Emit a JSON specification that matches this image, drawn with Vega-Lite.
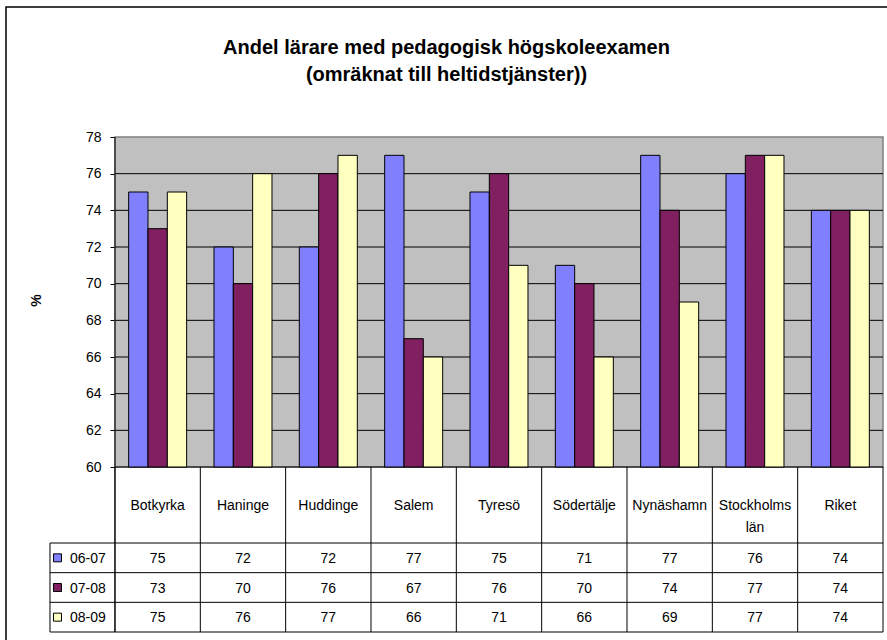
{
  "$schema": "https://vega.github.io/schema/vega-lite/v6.json",
  "width": 881,
  "height": 633,
  "autosize": {"type": "none"},
  "padding": {"left": 6, "top": 7, "right": 0, "bottom": 0},
  "background": "white",
  "title": {
    "text": ["Andel lärare med pedagogisk högskoleexamen", "(omräknat till heltidstjänster))"],
    "font": "Liberation Sans",
    "fontSize": 20,
    "fontWeight": "bold",
    "color": "black",
    "anchor": "middle",
    "frame": "group",
    "offset": -78,
    "baseline": "top",
    "lineHeight": 27
  },
  "data": {
    "values": [
      {"category": "Botkyrka", "series": "06-07", "value": 75},
      {"category": "Haninge", "series": "06-07", "value": 72},
      {"category": "Huddinge", "series": "06-07", "value": 72},
      {"category": "Salem", "series": "06-07", "value": 77},
      {"category": "Tyresö", "series": "06-07", "value": 75},
      {"category": "Södertälje", "series": "06-07", "value": 71},
      {"category": "Nynäshamn", "series": "06-07", "value": 77},
      {"category": "Stockholms län", "series": "06-07", "value": 76},
      {"category": "Riket", "series": "06-07", "value": 74},
      {"category": "Botkyrka", "series": "07-08", "value": 73},
      {"category": "Haninge", "series": "07-08", "value": 70},
      {"category": "Huddinge", "series": "07-08", "value": 76},
      {"category": "Salem", "series": "07-08", "value": 67},
      {"category": "Tyresö", "series": "07-08", "value": 76},
      {"category": "Södertälje", "series": "07-08", "value": 70},
      {"category": "Nynäshamn", "series": "07-08", "value": 74},
      {"category": "Stockholms län", "series": "07-08", "value": 77},
      {"category": "Riket", "series": "07-08", "value": 74},
      {"category": "Botkyrka", "series": "08-09", "value": 75},
      {"category": "Haninge", "series": "08-09", "value": 76},
      {"category": "Huddinge", "series": "08-09", "value": 77},
      {"category": "Salem", "series": "08-09", "value": 66},
      {"category": "Tyresö", "series": "08-09", "value": 71},
      {"category": "Södertälje", "series": "08-09", "value": 66},
      {"category": "Nynäshamn", "series": "08-09", "value": 69},
      {"category": "Stockholms län", "series": "08-09", "value": 77},
      {"category": "Riket", "series": "08-09", "value": 74}
    ]
  },
  "layer": [
    {
      "layer": [
        {
          "transform": [{"filter": {"and": [{"field": "category", "equal": "Botkyrka"}, {"field": "series", "equal": "06-07"}]}}],
          "mark": {"type": "rect", "fill": "#C0C0C0", "stroke": "#808080", "strokeWidth": 1.5},
          "encoding": {
            "x": {"datum": "Botkyrka", "bandPosition": 0},
            "x2": {"datum": "Riket", "bandPosition": 1},
            "y": {"datum": 78},
            "y2": {"datum": 60}
          }
        },
        {
          "data": {"values": [{"g": 60}, {"g": 62}, {"g": 64}, {"g": 66}, {"g": 68}, {"g": 70}, {"g": 72}, {"g": 74}, {"g": 76}]},
          "mark": {"type": "rule", "color": "black", "strokeWidth": 1},
          "encoding": {
            "y": {"field": "g", "type": "quantitative"},
            "x": {"datum": "Botkyrka", "bandPosition": 0},
            "x2": {"datum": "Riket", "bandPosition": 1}
          }
        },
        {
          "mark": {"type": "bar", "stroke": "black", "strokeWidth": 1},
          "encoding": {
            "x": {
              "field": "category",
              "type": "nominal",
              "sort": null,
              "axis": null,
              "scale": {
                "type": "band",
                "domain": ["Botkyrka", "Haninge", "Huddinge", "Salem", "Tyresö", "Södertälje", "Nynäshamn", "Stockholms län", "Riket"],
                "paddingInner": 0,
                "paddingOuter": 0.662,
                "align": 0.9646
              }
            },
            "xOffset": {
              "field": "series",
              "type": "nominal",
              "scale": {"domain": ["06-07", "07-08", "08-09"], "paddingInner": 0, "paddingOuter": 0.707}
            },
            "y": {
              "field": "value",
              "type": "quantitative",
              "scale": {"domain": [50.564, 85.091], "nice": false, "zero": false},
              "axis": {
                "values": [60, 62, 64, 66, 68, 70, 72, 74, 76, 78],
                "domain": false,
                "grid": false,
                "offset": -109,
                "tickSize": 5,
                "tickColor": "black",
                "tickWidth": 1,
                "labelPadding": 9,
                "labelFont": "Liberation Sans",
                "labelFontSize": 14,
                "labelColor": "black",
                "title": "%",
                "titleFont": "Liberation Sans",
                "titleFontSize": 14,
                "titleFontWeight": "bold",
                "titleColor": "black",
                "titlePadding": 42,
                "titleY": 293
              }
            },
            "y2": {"datum": 60},
            "color": {
              "field": "series",
              "type": "nominal",
              "scale": {"domain": ["06-07", "07-08", "08-09"], "range": ["#8080FF", "#802060", "#FFFFC0"]},
              "legend": null
            }
          }
        },
        {
          "transform": [{"filter": {"and": [{"field": "category", "equal": "Botkyrka"}, {"field": "series", "equal": "06-07"}]}}],
          "mark": {"type": "rule", "color": "black", "strokeWidth": 1},
          "encoding": {
            "x": {"datum": "Botkyrka", "bandPosition": 0},
            "y": {"datum": 51.0},
            "y2": {"datum": 78}
          }
        },
        {
          "transform": [{"filter": {"field": "series", "equal": "06-07"}}],
          "mark": {"type": "rule", "color": "black", "strokeWidth": 1},
          "encoding": {
            "x": {"field": "category", "type": "nominal", "bandPosition": 0},
            "y": {"datum": 60},
            "y2": {"datum": 51.0}
          }
        },
        {
          "transform": [{"filter": {"and": [{"field": "category", "equal": "Botkyrka"}, {"field": "series", "equal": "06-07"}]}}],
          "mark": {"type": "rule", "color": "black", "strokeWidth": 1},
          "encoding": {
            "x": {"datum": "Riket", "bandPosition": 1},
            "y": {"datum": 60},
            "y2": {"datum": 51.0}
          }
        },
        {
          "transform": [{"filter": {"field": "series", "equal": "06-07"}}],
          "mark": {"type": "text", "baseline": "top", "lineBreak": " ", "lineHeight": 22, "fontSize": 14, "font": "Liberation Sans", "color": "black"},
          "encoding": {
            "x": {"field": "category", "type": "nominal"},
            "y": {"datum": 58.28},
            "text": {"field": "category"}
          }
        }
      ]
    },
    {
      "layer": [
        {
          "transform": [{"filter": {"field": "category", "equal": "Botkyrka"}}],
          "mark": {"type": "rule", "color": "black", "strokeWidth": 1, "xOffset": -65},
          "encoding": {
            "x": {"datum": "Botkyrka", "bandPosition": 0},
            "x2": {"datum": "Riket", "bandPosition": 1},
            "y": {
              "field": "series",
              "type": "nominal",
              "bandPosition": 0,
              "scale": {"type": "band", "domain": ["06-07", "07-08", "08-09"], "range": [536, 625], "paddingInner": 0, "paddingOuter": 0},
              "axis": null
            }
          }
        },
        {
          "transform": [{"filter": {"and": [{"field": "category", "equal": "Botkyrka"}, {"field": "series", "equal": "06-07"}]}}],
          "mark": {"type": "rule", "color": "black", "strokeWidth": 1, "xOffset": -65},
          "encoding": {
            "x": {"datum": "Botkyrka", "bandPosition": 0},
            "x2": {"datum": "Riket", "bandPosition": 1},
            "y": {"datum": "08-09", "bandPosition": 1, "axis": null}
          }
        },
        {
          "transform": [{"filter": {"and": [{"field": "category", "equal": "Botkyrka"}, {"field": "series", "equal": "06-07"}]}}],
          "mark": {"type": "rule", "color": "black", "strokeWidth": 1, "xOffset": -65},
          "encoding": {
            "x": {"datum": "Botkyrka", "bandPosition": 0},
            "y": {"datum": "06-07", "bandPosition": 0, "axis": null},
            "y2": {"datum": "08-09", "bandPosition": 1}
          }
        },
        {
          "mark": {"type": "text", "baseline": "middle", "dy": 1, "fontSize": 14, "font": "Liberation Sans", "color": "black"},
          "encoding": {
            "x": {"field": "category", "type": "nominal"},
            "y": {"field": "series", "type": "nominal", "axis": null},
            "text": {"field": "value"}
          }
        },
        {
          "transform": [{"filter": {"field": "category", "equal": "Botkyrka"}}],
          "mark": {"type": "text", "align": "left", "baseline": "middle", "dy": 1, "xOffset": -45, "fontSize": 14, "font": "Liberation Sans", "color": "black"},
          "encoding": {
            "x": {"datum": "Botkyrka", "bandPosition": 0},
            "y": {"field": "series", "type": "nominal", "axis": null},
            "text": {"field": "series"}
          }
        },
        {
          "transform": [{"filter": {"field": "category", "equal": "Botkyrka"}}],
          "mark": {"type": "point", "shape": "square", "filled": true, "size": 64, "stroke": "black", "strokeWidth": 1, "opacity": 1, "xOffset": -57.5},
          "encoding": {
            "x": {"datum": "Botkyrka", "bandPosition": 0},
            "y": {"field": "series", "type": "nominal", "axis": null},
            "color": {"field": "series", "type": "nominal", "legend": null}
          }
        }
      ]
    }
  ],
  "resolve": {"scale": {"y": "independent"}, "axis": {"y": "independent"}},
  "config": {
    "view": {"stroke": "black", "strokeWidth": 1.5, "strokeDash": [881, 1514, 633]},
    "axisX": {"disable": true},
    "text": {"font": "Liberation Sans", "fontSize": 14, "color": "black"}
  }
}
